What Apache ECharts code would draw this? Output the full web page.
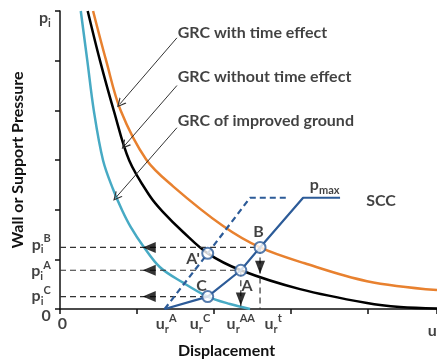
<!DOCTYPE html>
<html lang="en">
<head>
    <meta charset="UTF-8">
    <title>Ground Reaction Curve</title>
    <script src="https://cdn.jsdelivr.net/npm/echarts@6/dist/echarts.min.js"></script>
</head>
<body style="margin:0">
<div id="main" style="width:437px;height:364px"></div>
<script>
    // ground reaction curves (displacement, pressure)
    const grcTime = [[0.43, 6.00], [0.60, 5.00], [0.79, 3.99], [1.12, 3.01], [1.47, 2.47], [2.12, 1.67],
        [2.60, 1.24], [3.18, 0.92], [3.99, 0.56], [4.90, 0.38]];
    const grcNoTime = [[0.36, 6.00], [0.52, 5.00], [0.70, 3.99], [0.90, 2.99], [1.17, 2.27], [1.34, 1.95],
        [1.60, 1.55], [1.92, 1.12], [2.35, 0.78], [3.12, 0.40], [3.99, 0.12], [4.42, 0.04], [4.90, 0.01]];
    const grcImproved = [[0.27, 6.00], [0.355, 5.00], [0.44, 3.99], [0.56, 2.99], [0.69, 2.41], [0.81, 1.98],
        [0.92, 1.65], [1.08, 1.27], [1.30, 0.84], [1.60, 0.53], [1.92, 0.25], [2.21, 0.10], [2.47, 0.00]];
    // support characteristic curves
    const scc = [[1.36, 0], [1.92, 0.25], [2.35, 0.78], [2.60, 1.24], [3.16, 2.24], [3.64, 2.24]];
    const sccEarly = [[1.36, 0], [1.92, 1.12], [2.47, 2.24], [2.95, 2.24]];

    // equilibrium points
    const pointNames = ["A'", 'A', 'B', 'C'];
    const pointX = [1.92, 2.35, 2.60, 1.92];
    const pointY = [1.12, 0.78, 1.24, 0.25];

    const calloutNames = ['GRC with time effect', 'GRC without time effect', 'GRC of improved ground'];

    // tick labels
    const yTickNames = ['{m|p}{sub|i}', '{m|p}{sub|i}{sup|B}', '{m|p}{sub|i}{sup|A}', '{m|p}{sub|i}{sup|C}', '{m|0}'];
    const yTickValues = [5.86, 1.30, 0.76, 0.26, -0.14];
    const xTickNames = ['{m|0}', '{m|u}{sub|r}{sup|A}', '{m|u}{sub|r}{sup|C}', '{m|u}{sub|r}{sup|AA}', '{m|u}{sub|r}{sup|t}'];
    const xTickValues = [0.03, 1.38, 1.82, 2.35, 2.77];

    const FONT = 'Lato';
    const BLUE = '#2c5b98', ORANGE = '#e8812f', TEAL = '#47aac4';

    const rich = {
        m: {fontFamily: FONT, fontSize: 16, fontWeight: 'bold', color: '#111', lineHeight: 22},
        sub: {fontFamily: FONT, fontSize: 11, fontWeight: 'bold', color: '#111', lineHeight: 10, verticalAlign: 'bottom'},
        sup: {fontFamily: FONT, fontSize: 11, fontWeight: 'bold', color: '#111', lineHeight: 10, verticalAlign: 'top'},
        t: {fontFamily: FONT, fontSize: 16, fontWeight: 'bold', color: '#111'}
    };

    const chart = echarts.init(document.getElementById('main'));

    function dashed(data, color, width) {
        return {
            type: 'line', data: data, symbol: 'none', silent: true,
            lineStyle: {color: color, width: width, type: [6, 4]}
        };
    }

    const guideSeries = [];
    // B, A, C : horizontal guides to the pressure axis
    [2, 1, 3].forEach(i => guideSeries.push(dashed([[0, pointY[i]], [pointX[i], pointY[i]]], '#333', 1.2)));
    // B, A : vertical guides to the displacement axis
    [2, 1].forEach(i => guideSeries.push(dashed([[pointX[i], pointY[i]], [pointX[i], 0]], '#333', 1.2)));

    function textSeries(items, position, style) {
        return {
            type: 'scatter', symbolSize: 0, clip: false, silent: true, z: 20,
            data: items.map(d => [d[0], d[1]]),
            label: Object.assign({
                show: true, position: position, distance: 0, rich: rich,
                formatter: p => items[p.dataIndex][2]
            }, style || {})
        };
    }

    function curve(data, color) {
        return {type: 'line', data: data, symbol: 'none', smooth: 0.35, lineStyle: {color: color, width: 2.5}};
    }

    const option = {
        animation: false,
        grid: {left: 60, right: 0, top: 11, bottom: 54},
        xAxis: {
            type: 'value', min: 0, max: 4.9, interval: 1,
            name: 'Displacement', nameLocation: 'middle', nameGap: 34,
            nameTextStyle: {fontFamily: FONT, fontSize: 16, fontWeight: 'bold', color: '#111', padding: [0, 44, 0, 0]},
            axisLine: {lineStyle: {color: '#111', width: 1.5}},
            axisTick: {show: true, length: 5, lineStyle: {color: '#111', width: 1.5}},
            axisLabel: {show: false},
            splitLine: {show: false}
        },
        yAxis: {
            type: 'value', min: 0, max: 6, interval: 1,
            name: 'Wall or Support Pressure', nameLocation: 'middle', nameGap: 34,
            nameTextStyle: {fontFamily: FONT, fontSize: 16, fontWeight: 'bold', color: '#111'},
            axisLine: {lineStyle: {color: '#111', width: 1.5}},
            axisTick: {show: true, length: 5, lineStyle: {color: '#111', width: 1.5}},
            axisLabel: {show: false},
            splitLine: {show: false}
        },
        series: [
            curve(grcTime, ORANGE),
            curve(grcNoTime, '#000'),
            curve(grcImproved, TEAL),
            ...guideSeries,
            {type: 'line', data: scc, symbol: 'none', lineStyle: {color: BLUE, width: 2.2}, z: 5},
            {type: 'line', data: sccEarly, symbol: 'none', lineStyle: {color: BLUE, width: 2.2, type: [6, 4]}, z: 5},
            {
                // arrows pointing to the pressure axis
                type: 'scatter', symbol: 'triangle', symbolRotate: 90, symbolSize: [11, 13], z: 6,
                itemStyle: {color: '#000'},
                data: [2, 1, 3].map(i => [1.16, pointY[i]])
            },
            {
                // arrows pointing to the displacement axis
                type: 'scatter', symbol: 'triangle', symbolRotate: 180, symbolSize: [10, 13], z: 6,
                itemStyle: {color: '#000'},
                data: [[pointX[2], 0.84], [pointX[1], 0.20]]
            },
            {
                type: 'scatter', symbol: 'circle', symbolSize: 11, z: 10,
                itemStyle: {color: '#fff', borderColor: BLUE, borderWidth: 2},
                data: pointX.map((x, i) => [x, pointY[i]])
            },
            {
                type: 'lines', coordinateSystem: 'cartesian2d', z: 8, silent: true,
                symbol: ['none', 'path://M0,10 L5,0 L10,10 L8.6,10 L5,2.8 L1.4,10 Z'], symbolSize: 9,
                lineStyle: {color: '#333', width: 1, opacity: 1},
                data: [
                    {coords: [[1.52, 5.46], [0.78, 4.13]]},
                    {coords: [[1.52, 4.50], [0.84, 3.29]]},
                    {coords: [[1.52, 3.65], [0.73, 2.25]]}
                ]
            },
            textSeries([
                [1.53, 5.56, '{t|' + calloutNames[0] + '}'],
                [1.53, 4.68, '{t|' + calloutNames[1] + '}'],
                [1.53, 3.79, '{t|' + calloutNames[2] + '}'],
                [3.98, 2.17, '{t|SCC}']
            ], 'right'),
            textSeries(yTickValues.map((v, i) => [-0.12, v, yTickNames[i]]), 'left'),
            textSeries(xTickValues.map((v, i) => [v, -0.30, xTickNames[i]]), 'inside'),
            textSeries([
                [4.78, -0.44, '{m|u}{sub|r}'],
            ], 'right'),
            textSeries([
                [3.44, 2.49, '{m|p}{sub|max}'],
                [2.58, 1.55, '{t|B}'],
                [1.73, 1.00, "{t|A'}"],
                [2.43, 0.46, '{t|A}'],
                [1.84, 0.46, '{t|C}']
            ], 'inside')
        ]
    };
    chart.setOption(option);
</script>
</body>
</html>
